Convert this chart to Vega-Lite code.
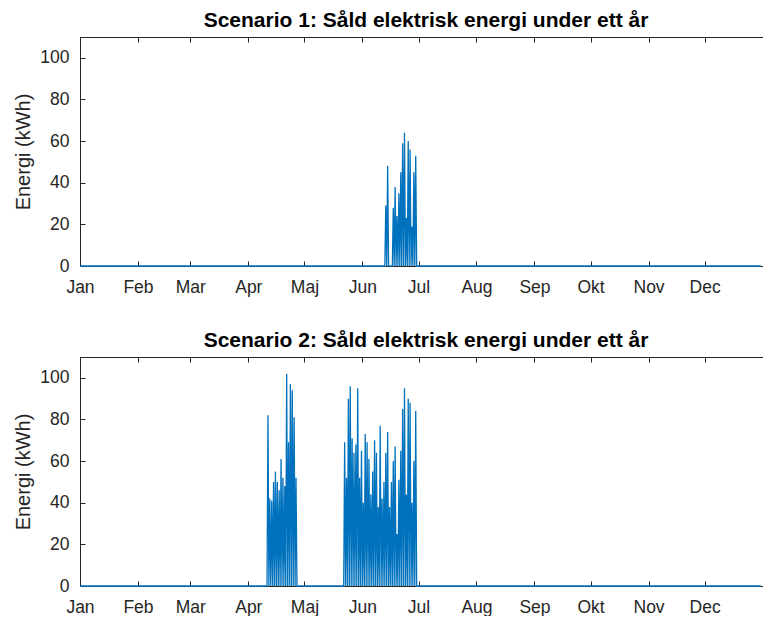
{
  "$schema": "https://vega.github.io/schema/vega-lite/v6.json",
  "padding": {"left": 13, "top": 9, "right": 0, "bottom": 0},
  "datasets": {
    "s1": [
      {"t":"2019-01-01T00:00","v":0},
      {"t":"2019-06-13T00:00","v":0},{"t":"2019-06-13T12:00","v":29},
      {"t":"2019-06-14T00:00","v":0},{"t":"2019-06-14T12:00","v":48},
      {"t":"2019-06-15T00:00","v":0},
      {"t":"2019-06-17T00:00","v":0},{"t":"2019-06-17T12:00","v":28},
      {"t":"2019-06-18T00:00","v":0},{"t":"2019-06-18T12:00","v":38},
      {"t":"2019-06-19T00:00","v":0},{"t":"2019-06-19T12:00","v":24},
      {"t":"2019-06-20T00:00","v":0},{"t":"2019-06-20T12:00","v":35},
      {"t":"2019-06-21T00:00","v":0},{"t":"2019-06-21T12:00","v":45},
      {"t":"2019-06-22T00:00","v":0},{"t":"2019-06-22T12:00","v":59},
      {"t":"2019-06-23T00:00","v":0},{"t":"2019-06-23T12:00","v":64},
      {"t":"2019-06-24T00:00","v":0},{"t":"2019-06-24T12:00","v":23},
      {"t":"2019-06-25T00:00","v":0},{"t":"2019-06-25T12:00","v":60},
      {"t":"2019-06-26T00:00","v":0},{"t":"2019-06-26T12:00","v":56},
      {"t":"2019-06-27T00:00","v":0},{"t":"2019-06-27T12:00","v":19},
      {"t":"2019-06-28T00:00","v":0},{"t":"2019-06-28T12:00","v":45},
      {"t":"2019-06-29T00:00","v":0},{"t":"2019-06-29T12:00","v":53},
      {"t":"2019-06-30T00:00","v":0},
      {"t":"2019-12-31T00:00","v":0}
    ],
    "s2": [
      {"t":"2019-01-01T00:00","v":0},
      {"t":"2019-04-11T00:00","v":0},{"t":"2019-04-11T12:00","v":82},
      {"t":"2019-04-12T00:00","v":0},{"t":"2019-04-12T12:00","v":42},
      {"t":"2019-04-13T00:00","v":0},{"t":"2019-04-13T12:00","v":41},
      {"t":"2019-04-14T00:00","v":0},{"t":"2019-04-14T12:00","v":50},
      {"t":"2019-04-15T00:00","v":0},{"t":"2019-04-15T12:00","v":55},
      {"t":"2019-04-16T00:00","v":0},{"t":"2019-04-16T12:00","v":50},
      {"t":"2019-04-17T00:00","v":0},{"t":"2019-04-17T12:00","v":46},
      {"t":"2019-04-18T00:00","v":0},{"t":"2019-04-18T12:00","v":61},
      {"t":"2019-04-19T00:00","v":0},{"t":"2019-04-19T12:00","v":52},
      {"t":"2019-04-20T00:00","v":0},{"t":"2019-04-20T12:00","v":48},
      {"t":"2019-04-21T00:00","v":0},{"t":"2019-04-21T12:00","v":102},
      {"t":"2019-04-22T00:00","v":0},{"t":"2019-04-22T12:00","v":69},
      {"t":"2019-04-23T00:00","v":0},{"t":"2019-04-23T12:00","v":97},
      {"t":"2019-04-24T00:00","v":0},{"t":"2019-04-24T12:00","v":94},
      {"t":"2019-04-25T00:00","v":0},{"t":"2019-04-25T12:00","v":81},
      {"t":"2019-04-26T00:00","v":0},{"t":"2019-04-26T12:00","v":52},
      {"t":"2019-04-27T00:00","v":0},
      {"t":"2019-05-22T00:00","v":0},{"t":"2019-05-22T12:00","v":69},
      {"t":"2019-05-23T00:00","v":0},{"t":"2019-05-23T12:00","v":52},
      {"t":"2019-05-24T00:00","v":0},{"t":"2019-05-24T12:00","v":90},
      {"t":"2019-05-25T00:00","v":0},{"t":"2019-05-25T12:00","v":96},
      {"t":"2019-05-26T00:00","v":0},{"t":"2019-05-26T12:00","v":71},
      {"t":"2019-05-27T00:00","v":0},{"t":"2019-05-27T12:00","v":64},
      {"t":"2019-05-28T00:00","v":0},{"t":"2019-05-28T12:00","v":68},
      {"t":"2019-05-29T00:00","v":0},{"t":"2019-05-29T12:00","v":95},
      {"t":"2019-05-30T00:00","v":0},{"t":"2019-05-30T12:00","v":52},
      {"t":"2019-05-31T00:00","v":0},{"t":"2019-05-31T12:00","v":65},
      {"t":"2019-06-01T00:00","v":0},{"t":"2019-06-01T12:00","v":40},
      {"t":"2019-06-02T00:00","v":0},{"t":"2019-06-02T12:00","v":73},
      {"t":"2019-06-03T00:00","v":0},{"t":"2019-06-03T12:00","v":69},
      {"t":"2019-06-04T00:00","v":0},{"t":"2019-06-04T12:00","v":61},
      {"t":"2019-06-05T00:00","v":0},{"t":"2019-06-05T12:00","v":44},
      {"t":"2019-06-06T00:00","v":0},{"t":"2019-06-06T12:00","v":55},
      {"t":"2019-06-07T00:00","v":0},{"t":"2019-06-07T12:00","v":70},
      {"t":"2019-06-08T00:00","v":0},{"t":"2019-06-08T12:00","v":64},
      {"t":"2019-06-09T00:00","v":0},{"t":"2019-06-09T12:00","v":38},
      {"t":"2019-06-10T00:00","v":0},{"t":"2019-06-10T12:00","v":77},
      {"t":"2019-06-11T00:00","v":0},{"t":"2019-06-11T12:00","v":42},
      {"t":"2019-06-12T00:00","v":0},{"t":"2019-06-12T12:00","v":50},
      {"t":"2019-06-13T00:00","v":0},{"t":"2019-06-13T12:00","v":64},
      {"t":"2019-06-14T00:00","v":0},{"t":"2019-06-14T12:00","v":74},
      {"t":"2019-06-15T00:00","v":0},{"t":"2019-06-15T12:00","v":38},
      {"t":"2019-06-16T00:00","v":0},{"t":"2019-06-16T12:00","v":50},
      {"t":"2019-06-17T00:00","v":0},{"t":"2019-06-17T12:00","v":60},
      {"t":"2019-06-18T00:00","v":0},{"t":"2019-06-18T12:00","v":67},
      {"t":"2019-06-19T00:00","v":0},{"t":"2019-06-19T12:00","v":25},
      {"t":"2019-06-20T00:00","v":0},{"t":"2019-06-20T12:00","v":51},
      {"t":"2019-06-21T00:00","v":0},{"t":"2019-06-21T12:00","v":65},
      {"t":"2019-06-22T00:00","v":0},{"t":"2019-06-22T12:00","v":85},
      {"t":"2019-06-23T00:00","v":0},{"t":"2019-06-23T12:00","v":95},
      {"t":"2019-06-24T00:00","v":0},{"t":"2019-06-24T12:00","v":44},
      {"t":"2019-06-25T00:00","v":0},{"t":"2019-06-25T12:00","v":90},
      {"t":"2019-06-26T00:00","v":0},{"t":"2019-06-26T12:00","v":88},
      {"t":"2019-06-27T00:00","v":0},{"t":"2019-06-27T12:00","v":40},
      {"t":"2019-06-28T00:00","v":0},{"t":"2019-06-28T12:00","v":60},
      {"t":"2019-06-29T00:00","v":0},{"t":"2019-06-29T12:00","v":84},
      {"t":"2019-06-30T00:00","v":0},
      {"t":"2019-12-31T00:00","v":0}
    ]
  },
  "vconcat": [
    {
      "width": 692,
      "height": 229,
      "title": {"text": "Scenario 1: Såld elektrisk energi under ett år"},
      "data": {"name": "s1"},
      "layer": [
        {
          "mark": {"type": "line", "color": "#0072BD", "strokeWidth": 1.3},
          "encoding": {
            "x": {
              "field": "t", "type": "temporal",
              "scale": {"domain": [{"year": 2019, "month": 1, "date": 1}, {"year": 2020, "month": 1, "date": 6}], "nice": false},
              "axis": {
                "orient": "bottom", "title": null, "labelPadding": 17, "labelFlush": false,
                "values": [{"year":2019,"month":1,"date":1},{"year":2019,"month":2,"date":1},{"year":2019,"month":3,"date":1},{"year":2019,"month":4,"date":1},{"year":2019,"month":5,"date":1},{"year":2019,"month":6,"date":1},{"year":2019,"month":7,"date":1},{"year":2019,"month":8,"date":1},{"year":2019,"month":9,"date":1},{"year":2019,"month":10,"date":1},{"year":2019,"month":11,"date":1},{"year":2019,"month":12,"date":1}],
                "labelExpr": "['Jan','Feb','Mar','Apr','Maj','Jun','Jul','Aug','Sep','Okt','Nov','Dec'][month(datum.value)]"
              }
            },
            "y": {
              "field": "v", "type": "quantitative",
              "scale": {"domain": [0, 110], "nice": false},
              "axis": {"title": "Energi (kWh)", "values": [0, 20, 40, 60, 80, 100], "labelPadding": 16, "titlePadding": 6}
            }
          }
        },
        {
          "mark": {"type": "line", "strokeOpacity": 0},
          "encoding": {
            "x": {
              "field": "t", "type": "temporal",
              "axis": {
                "orient": "top", "title": null, "labels": false, "domain": false,
                "values": [{"year":2019,"month":1,"date":1},{"year":2019,"month":2,"date":1},{"year":2019,"month":3,"date":1},{"year":2019,"month":4,"date":1},{"year":2019,"month":5,"date":1},{"year":2019,"month":6,"date":1},{"year":2019,"month":7,"date":1},{"year":2019,"month":8,"date":1},{"year":2019,"month":9,"date":1},{"year":2019,"month":10,"date":1},{"year":2019,"month":11,"date":1},{"year":2019,"month":12,"date":1}]
              }
            },
            "y": {"field": "v", "type": "quantitative"}
          }
        }
      ],
      "resolve": {"axis": {"x": "independent"}}
    },
    {
      "width": 692,
      "height": 229,
      "title": {"text": "Scenario 2: Såld elektrisk energi under ett år"},
      "data": {"name": "s2"},
      "layer": [
        {
          "mark": {"type": "line", "color": "#0072BD", "strokeWidth": 1.3},
          "encoding": {
            "x": {
              "field": "t", "type": "temporal",
              "scale": {"domain": [{"year": 2019, "month": 1, "date": 1}, {"year": 2020, "month": 1, "date": 6}], "nice": false},
              "axis": {
                "orient": "bottom", "title": null, "labelPadding": 17, "labelFlush": false,
                "values": [{"year":2019,"month":1,"date":1},{"year":2019,"month":2,"date":1},{"year":2019,"month":3,"date":1},{"year":2019,"month":4,"date":1},{"year":2019,"month":5,"date":1},{"year":2019,"month":6,"date":1},{"year":2019,"month":7,"date":1},{"year":2019,"month":8,"date":1},{"year":2019,"month":9,"date":1},{"year":2019,"month":10,"date":1},{"year":2019,"month":11,"date":1},{"year":2019,"month":12,"date":1}],
                "labelExpr": "['Jan','Feb','Mar','Apr','Maj','Jun','Jul','Aug','Sep','Okt','Nov','Dec'][month(datum.value)]"
              }
            },
            "y": {
              "field": "v", "type": "quantitative",
              "scale": {"domain": [0, 110], "nice": false},
              "axis": {"title": "Energi (kWh)", "values": [0, 20, 40, 60, 80, 100], "labelPadding": 16, "titlePadding": 6}
            }
          }
        },
        {
          "mark": {"type": "line", "strokeOpacity": 0},
          "encoding": {
            "x": {
              "field": "t", "type": "temporal",
              "axis": {
                "orient": "top", "title": null, "labels": false, "domain": false,
                "values": [{"year":2019,"month":1,"date":1},{"year":2019,"month":2,"date":1},{"year":2019,"month":3,"date":1},{"year":2019,"month":4,"date":1},{"year":2019,"month":5,"date":1},{"year":2019,"month":6,"date":1},{"year":2019,"month":7,"date":1},{"year":2019,"month":8,"date":1},{"year":2019,"month":9,"date":1},{"year":2019,"month":10,"date":1},{"year":2019,"month":11,"date":1},{"year":2019,"month":12,"date":1}]
              }
            },
            "y": {"field": "v", "type": "quantitative"}
          }
        }
      ],
      "resolve": {"axis": {"x": "independent"}}
    }
  ],
  "spacing": 33,
  "config": {
    "font": "Liberation Sans",
    "background": "#ffffff",
    "view": {"stroke": "#262626", "strokeWidth": 1},
    "axis": {
      "grid": false,
      "domainColor": "#262626", "tickColor": "#262626",
      "labelColor": "#262626", "titleColor": "#262626",
      "labelFont": "Liberation Sans", "titleFont": "Liberation Sans",
      "labelFontSize": 17.5, "titleFontSize": 20, "titleFontWeight": "normal",
      "tickSize": -5
    },
    "title": {"font": "Liberation Sans", "fontSize": 21, "fontWeight": "bold", "color": "#000000", "offset": 6, "anchor": "middle", "frame": "group"}
  }
}
